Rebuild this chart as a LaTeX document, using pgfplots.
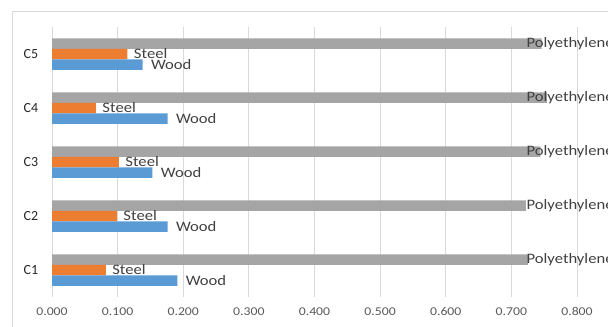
\documentclass[border=0pt]{standalone}
\usepackage{fontspec}
\setmainfont{Carlito}
\newfontfamily\lblfont[FakeStretch=1.15]{Carlito}
\usepackage{pgfplots}
\pgfplotsset{compat=1.18}
\definecolor{cgray}{HTML}{A5A5A5}
\definecolor{corange}{HTML}{ED7D31}
\definecolor{cblue}{HTML}{5B9BD5}
\definecolor{cgrid}{HTML}{D9D9D9}
\definecolor{ctxt}{HTML}{404040}
\definecolor{ctick}{HTML}{595959}
\pgfplotstableread{
cat wood steel poly
1 0.191 0.082 0.725
2 0.176 0.099 0.722
3 0.153 0.102 0.744
4 0.176 0.067 0.754
5 0.138 0.115 0.746
}\datatable
\begin{document}
\begin{tikzpicture}
\useasboundingbox (0,0) rectangle (608bp,-327bp);
\clip (0,0) rectangle (608bp,-327bp);
\draw[cgrid, line width=1bp] (12bp,-350bp) -- (12bp,-11bp) -- (650bp,-11bp);
\begin{axis}[
  at={(52bp,-297bp)}, anchor=south west,
  scale only axis, width=525bp, height=270bp,
  xmin=0, xmax=0.8, ymin=0.5, ymax=5.5,
  xtick={0,0.1,...,0.8},
  ytick={1,2,3,4,5}, yticklabels={C1,C2,C3,C4,C5},
  xbar, bar width=10.5bp,
  axis line style={draw=none},
  major tick style={draw=none},
  xmajorgrids, grid style={cgrid, line width=0.8bp},
  /pgf/number format/assume math mode=true,
  /pgf/number format/.cd, fixed, fixed zerofill, precision=3, /pgfplots/.cd,
  xticklabel style={font=\lblfont\fontsize{12}{12}\selectfont, text=ctick, yshift=-7bp},
  yticklabel style={font=\fontsize{14}{14}\selectfont, text=black!85, xshift=-6bp},
  every node near coord/.append style={font=\lblfont\fontsize{14.5}{14.5}\selectfont, text=ctxt, anchor=west},
  clip=false,
]
\addplot[fill=cgray, draw=none, bar shift=10.5bp] table[x=poly, y=cat] {\datatable};
\addplot[fill=corange, draw=none, bar shift=0bp, nodes near coords={Steel}, every node near coord/.append style={xshift=3bp}] table[x=steel, y=cat] {\datatable};
\addplot[fill=cblue, draw=none, bar shift=-10.5bp, nodes near coords={Wood}, every node near coord/.append style={xshift=5bp}] table[x=wood, y=cat] {\datatable};
\pgfplotsinvokeforeach{1,...,5}{
  \node[anchor=west, inner sep=0pt, font=\lblfont\fontsize{14.5}{14.5}\selectfont, text=ctxt] at (axis cs:0.723,#1+0.195) {Polyethylene};
}
\end{axis}
\end{tikzpicture}
\end{document}
